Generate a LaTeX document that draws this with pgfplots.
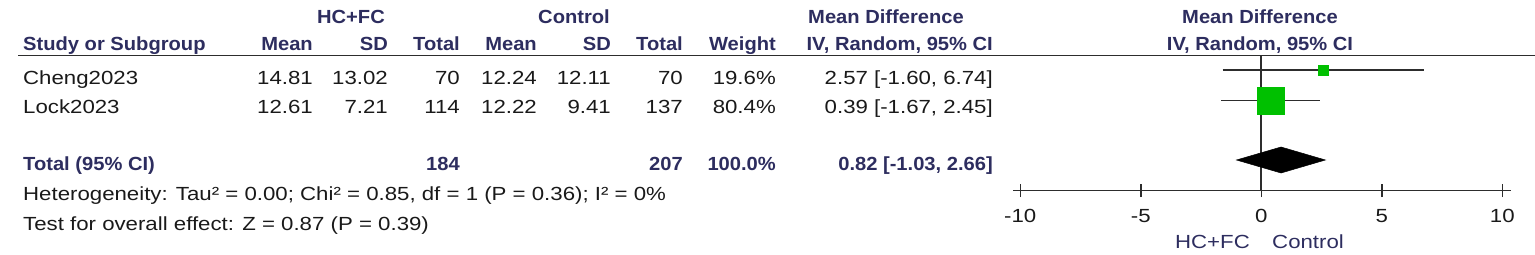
\documentclass[border=0pt]{standalone}
\usepackage{pgfplots}
\pgfplotsset{compat=1.18}
\usepackage{fontspec}
\setmainfont[FakeStretch=1.17]{Liberation Sans}
\newfontfamily\hdfont[FakeStretch=1.06]{Liberation Sans}
\definecolor{navy}{RGB}{45,45,95}
\definecolor{ink}{RGB}{25,25,25}
\definecolor{fgreen}{RGB}{0,192,0}
\definecolor{lgray}{RGB}{45,45,45}
\tikzset{
  rt/.style={anchor=base east,inner sep=0pt,text=ink,font=\fontsize{19bp}{22bp}\selectfont},
  lt/.style={anchor=base west,inner sep=0pt,text=ink,font=\fontsize{19bp}{22bp}\selectfont},
  hr/.style={anchor=base east,inner sep=0pt,text=navy,font=\fontsize{19bp}{22bp}\selectfont\hdfont\bfseries},
  hl/.style={anchor=base west,inner sep=0pt,text=navy,font=\fontsize{19bp}{22bp}\selectfont\hdfont\bfseries},
  hc/.style={anchor=base,inner sep=0pt,text=navy,font=\fontsize{19bp}{22bp}\selectfont\hdfont\bfseries},
}
\begin{document}
\begin{tikzpicture}[x=1bp,y=1bp]
\useasboundingbox (0,0) rectangle (1535,254);
% header row 1
\node[hc] at (351,231) {HC+FC};
\node[hc] at (574,231) {Control};
\node[hc] at (886,231) {Mean Difference};
\node[hc] at (1260,231) {Mean Difference};
% header row 2
\node[hl] at (23,203.3) {Study or Subgroup};
\node[hr] at (313,203.3) {Mean};
\node[hr] at (388,203.3) {SD};
\node[hr] at (460,203.3) {Total};
\node[hr] at (537,203.3) {Mean};
\node[hr] at (611,203.3) {SD};
\node[hr] at (683,203.3) {Total};
\node[hr] at (776,203.3) {Weight};
\node[hr] at (993,203.3) {IV, Random, 95\% CI};
\node[hc] at (1260,203.3) {IV, Random, 95\% CI};
\draw[line width=1.8bp,color=lgray] (18,198.5) -- (1535,198.5);
% Cheng2023
\node[lt] at (23,169.7) {Cheng2023};
\node[rt] at (313,169.7) {14.81};
\node[rt] at (388,169.7) {13.02};
\node[rt] at (460,169.7) {70};
\node[rt] at (537,169.7) {12.24};
\node[rt] at (611,169.7) {12.11};
\node[rt] at (683,169.7) {70};
\node[rt] at (776,169.7) {19.6\%};
\node[rt] at (993,169.7) {2.57 [-1.60, 6.74]};
% Lock2023
\node[lt] at (23,140.7) {Lock2023};
\node[rt] at (313,140.7) {12.61};
\node[rt] at (388,140.7) {7.21};
\node[rt] at (460,140.7) {114};
\node[rt] at (537,140.7) {12.22};
\node[rt] at (611,140.7) {9.41};
\node[rt] at (683,140.7) {137};
\node[rt] at (776,140.7) {80.4\%};
\node[rt] at (993,140.7) {0.39 [-1.67, 2.45]};
% Total
\node[hl] at (23,83.3) {Total (95\% CI)};
\node[hr] at (460,83.3) {184};
\node[hr] at (683,83.3) {207};
\node[hr] at (776,83.3) {100.0\%};
\node[hr] at (993,83.3) {0.82 [-1.03, 2.66]};
\node[lt] at (23,53.3) {Heterogeneity: Tau² = 0.00; Chi² = 0.85, df = 1 (P = 0.36); I² = 0\%};
\node[lt] at (23,24) {Test for overall effect: Z = 0.87 (P = 0.39)};
% favours labels
\node[anchor=base east,inner sep=0pt,text=navy,font=\fontsize{19bp}{22bp}\selectfont] at (1250,6) {HC+FC};
\node[anchor=base west,inner sep=0pt,text=navy,font=\fontsize{19bp}{22bp}\selectfont] at (1272,6) {Control};
% forest plot
\begin{axis}[
  at={(1013bp,63.5bp)}, anchor=south west,
  scale only axis, width=498.2bp, height=135.5bp,
  xmin=-10.3, xmax=10.37, ymin=63.5, ymax=199,
  axis x line=bottom, axis y line=none,
  x axis line style={-,line width=1.5bp,color=lgray},
  xtick={-10,-5,0,5,10},
  xticklabels={-10,-5,0,5,10},
  tick align=center, major tick length=13bp,
  every tick/.style={line width=1.5bp,color=lgray},
  xticklabel style={anchor=base,yshift=-25bp,inner sep=0pt,text=ink,font=\fontsize{19bp}{22bp}\selectfont},
  clip=false,
]
\addplot[line width=1.6bp,color=lgray,mark=none] table {
x y
0 64
0 198
};
\addplot[line width=1.5bp,color=lgray] coordinates {(-1.60,184) (6.74,184)};
\addplot[line width=1.5bp,color=lgray] coordinates {(-1.67,153.5) (2.45,153.5)};
\addplot[only marks,mark=square*,mark size=5.3bp,color=fgreen] coordinates {(2.57,184)};
\addplot[only marks,mark=square*,mark size=13.8bp,color=fgreen] coordinates {(0.39,153.5)};
\addplot[fill=black,draw=black,line width=0.5bp] coordinates {(-1.03,94) (0.82,107) (2.66,94) (0.82,81)} -- cycle;
\end{axis}
\end{tikzpicture}
\end{document}
